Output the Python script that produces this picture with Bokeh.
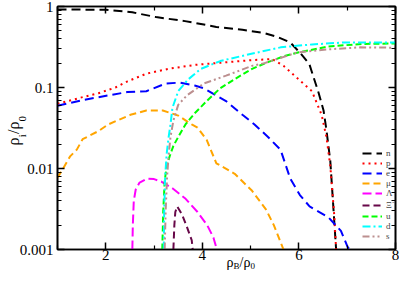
from bokeh.plotting import figure
from bokeh.models import (LogAxis, LinearAxis, FixedTicker, CustomJSTickFormatter,
                          Legend, LegendItem, Range1d)
from bokeh.embed import file_html
from bokeh.resources import INLINE

# ---------------- data ----------------
n_x = [1.0, 2.0, 2.55, 2.65, 3.04, 3.64, 4.29, 4.83, 5.28, 5.56, 5.82, 6.02, 6.215, 6.41, 6.51, 6.57, 6.65, 6.71, 6.77]
n_y = [0.92, 0.91, 0.85, 0.824, 0.74, 0.66, 0.56, 0.515, 0.47, 0.42, 0.36, 0.27, 0.195, 0.085, 0.052, 0.0298, 0.0123, 0.00353, 0.001]

p_x = [1.0, 1.52, 1.85, 2.2, 2.45, 2.84, 3.3, 3.84, 4.5, 5.03, 5.45, 5.68, 5.82, 6.02, 6.27, 6.47, 6.57, 6.65, 6.73, 6.77]
p_y = [0.063, 0.076, 0.085, 0.1, 0.119, 0.148, 0.17, 0.19, 0.205, 0.218, 0.224, 0.185, 0.156, 0.122, 0.09, 0.046, 0.0245, 0.0107, 0.0027, 0.001]

e_x = [1.0, 1.52, 1.85, 2.45, 2.84, 3.24, 3.54, 3.84, 4.03, 4.49, 4.83, 5.08, 5.36, 5.62, 5.82, 6.02, 6.22, 6.61, 6.87, 7.01, 7.05]
e_y = [0.0595, 0.07, 0.076, 0.088, 0.09, 0.112, 0.115, 0.106, 0.098, 0.068, 0.046, 0.035, 0.0245, 0.017, 0.0075, 0.0047, 0.0034, 0.0025, 0.0017, 0.00107, 0.001]

mu_x = [1.0, 1.12, 1.26, 1.4, 1.52, 1.85, 2.05, 2.51, 2.84, 3.18, 3.5, 3.78, 3.9, 4.09, 4.29, 4.67, 5.03, 5.32, 5.48, 5.68]
mu_y = [0.0077, 0.0101, 0.0141, 0.0171, 0.023, 0.029, 0.035, 0.046, 0.052, 0.052, 0.045, 0.035, 0.032, 0.0225, 0.0116, 0.0086, 0.0053, 0.0031, 0.002, 0.001]

lam_x = [2.55, 2.56, 2.58, 2.62, 2.7, 2.85, 3.0, 3.15, 3.38, 3.64, 3.9, 4.1, 4.23, 4.3]
lam_y = [0.001, 0.002, 0.004, 0.0055, 0.0067, 0.0075, 0.0074, 0.0069, 0.0057, 0.0043, 0.0029, 0.002, 0.0014, 0.001]

xi_x = [3.40, 3.42, 3.44, 3.48, 3.58, 3.68, 3.78, 3.8]
xi_y = [0.001, 0.002, 0.0029, 0.0034, 0.0027, 0.0019, 0.0013, 0.001]

u_x = [3.17, 3.19, 3.22, 3.26, 3.32, 3.4, 3.5, 3.65, 3.84, 4.09, 4.37, 4.69, 5.03, 5.36, 5.7, 6.0, 6.6, 7.3, 8.0]
u_y = [0.001, 0.003, 0.007, 0.0105, 0.014, 0.019, 0.0245, 0.035, 0.048, 0.068, 0.098, 0.129, 0.17, 0.206, 0.245, 0.272, 0.32, 0.345, 0.35]

d_x = [3.2, 3.21, 3.23, 3.26, 3.3, 3.34, 3.38, 3.5, 3.7, 3.97, 4.37, 4.97, 5.62, 6.27, 6.95, 8.0]
d_y = [0.001, 0.003, 0.008, 0.015, 0.024, 0.035, 0.056, 0.09, 0.125, 0.17, 0.212, 0.257, 0.313, 0.34, 0.36, 0.36]

s_x = [3.22, 3.24, 3.27, 3.3, 3.34, 3.4, 3.5, 3.68, 4.03, 4.49, 5.03, 5.29, 5.96, 6.61, 7.27, 8.0]
s_y = [0.001, 0.003, 0.008, 0.0141, 0.0245, 0.039, 0.061, 0.08, 0.112, 0.14, 0.185, 0.2, 0.27, 0.296, 0.313, 0.31]

labels = ["n", "p", "e", "\u03bc", "\u039b", "\u039e\u207b", "u", "d", "s"]
x_ticks = [2, 4, 6, 8]
x_minor = [1, 3, 5, 7]
y_ticks = [0.001, 0.01, 0.1, 1]

# axis titles: rho_B/rho_0 and rho_i/rho_0 (main part and subscripts)
xt_main, xt_main_at = ["\u03c1", "/\u03c1"], [4.574, 4.883]
xt_sub, xt_sub_at = ["B", "0"], [4.706, 5.046]
yt_main, yt_main_at = ["\u03c1", "/\u03c1"], [0.02157, 0.0318]
yt_sub, yt_sub_at = ["i", "0"], [0.0254, 0.0412]

# ---------------- figure ----------------
FONT = "Liberation Serif"
p = figure(width=399, height=275, x_range=Range1d(1, 8), y_range=Range1d(0.001, 1),
           y_axis_type="log", output_backend="svg", toolbar_location=None,
           min_border_left=57, min_border_right=4, min_border_top=6, min_border_bottom=26)
p.grid.visible = False
p.outline_line_color = "black"
p.outline_line_width = 1.6
p.background_fill_color = "white"
p.border_fill_color = "white"

y_minor = [k * 10.0 ** e for e in (-3, -2, -1) for k in range(2, 10)]
fmt = CustomJSTickFormatter(code="return tick.toString();")
blank = CustomJSTickFormatter(code="return '';")

def style(ax, show_labels=True):
    ax.axis_line_color = "black"
    ax.axis_line_width = 1.6
    ax.major_tick_in = 7
    ax.major_tick_out = 0
    ax.minor_tick_in = 4
    ax.minor_tick_out = 0
    ax.major_tick_line_width = 1.5
    ax.minor_tick_line_width = 1.2
    ax.major_tick_line_color = "black"
    ax.minor_tick_line_color = "black"
    ax.major_label_text_font = FONT
    ax.major_label_text_color = "black"
    ax.major_label_text_font_size = "15px"
    ax.major_label_standoff = 0
    if not show_labels:
        ax.formatter = blank

xb = p.xaxis[0]
xb.ticker = FixedTicker(ticks=x_ticks, minor_ticks=x_minor)
style(xb)
xb.major_label_standoff = 0
yl = p.yaxis[0]
yl.ticker = FixedTicker(ticks=y_ticks, minor_ticks=y_minor)
yl.formatter = fmt
style(yl)
yl.major_label_standoff = 4

xt = LinearAxis(ticker=FixedTicker(ticks=x_ticks, minor_ticks=x_minor))
style(xt, False)
p.add_layout(xt, "above")
yr = LogAxis(ticker=FixedTicker(ticks=y_ticks, minor_ticks=y_minor))
style(yr, False)
p.add_layout(yr, "right")

# title rows built as tick-label-only axes (text stays real text)
def title_axis(cls, ticks, texts, size, standoff, orient="horizontal"):
    ax = cls(ticker=FixedTicker(ticks=ticks, minor_ticks=[]),
             formatter=CustomJSTickFormatter(args=dict(labs=texts), code="return labs[index];"))
    ax.axis_line_color = None
    ax.major_tick_line_color = None
    ax.minor_tick_line_color = None
    ax.major_tick_in = 0
    ax.major_tick_out = 0
    ax.minor_tick_in = 0
    ax.minor_tick_out = 0
    ax.major_label_text_font = FONT
    ax.major_label_text_color = "black"
    ax.major_label_text_font_size = size
    ax.major_label_standoff = standoff
    ax.major_label_orientation = orient
    return ax

p.add_layout(title_axis(LinearAxis, xt_main_at, xt_main, "14px", -8), "below")
p.add_layout(title_axis(LinearAxis, xt_sub_at, xt_sub, "9px", -12), "below")
p.add_layout(title_axis(LogAxis, yt_sub_at, yt_sub, "11px", -12, "vertical"), "left")
p.add_layout(title_axis(LogAxis, yt_main_at, yt_main, "16px", -9, "vertical"), "left")

# ---------------- lines ----------------
series = [
    (n_x, n_y, "black", "9 5"),
    (p_x, p_y, "red", "2 4"),
    (e_x, e_y, "#0000FF", "9 5"),
    (mu_x, mu_y, "#FFA500", "7 4"),
    (lam_x, lam_y, "#FF00FF", "9 4"),
    (xi_x, xi_y, "#670748", "7 4"),
    (u_x, u_y, "#00FF00", "6 3"),
    (d_x, d_y, "#00FFFF", "8 3 2 3"),
    (s_x, s_y, "#BC8F8F", "7 3 2 3 2 3"),
]
items = []
for (xs, ys, col, dash), lab in zip(series, labels):
    r = p.line(xs, ys, line_color=col, line_width=2, line_dash=dash)
    items.append(LegendItem(label=lab, renderers=[r]))

leg = Legend(items=items, location=(305, 8), orientation="vertical",
             glyph_width=20, glyph_height=8, label_height=8, spacing=0,
             padding=0, margin=0, label_standoff=4,
             label_text_font=FONT, label_text_font_size="9px",
             border_line_color=None, background_fill_alpha=0)
p.add_layout(leg)

open("out.html", "w").write(file_html(p, INLINE))
